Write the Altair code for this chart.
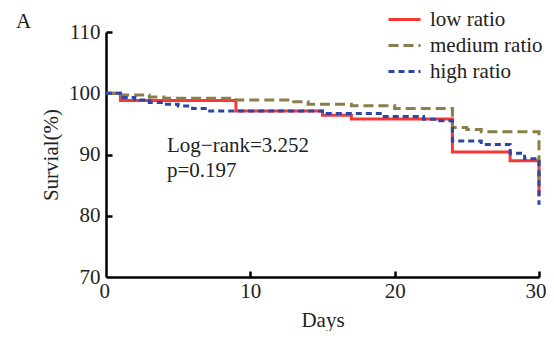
import altair as alt
import pandas as pd

# ---- data ----
series_names = ["low ratio", "medium ratio", "high ratio"]
series_colors = ["#f73636", "#8c7d4b", "#2a47a6"]

low_days = [0, 1, 9, 15, 17, 24, 28, 30]
low_vals = [100, 98.8, 97.1, 96.4, 95.8, 90.4, 89.0, 83.2]

medium_days = [0, 1, 3, 4, 9, 13, 14, 17, 20, 24, 25, 26, 30]
medium_vals = [100, 99.7, 99.4, 99.2, 98.9, 98.6, 98.2, 97.95, 97.5, 94.4, 94.1, 93.7, 84.8]

high_days = [0, 1, 2, 3, 4, 5, 6, 7, 15, 19, 22, 23, 24, 26, 28, 29, 30]
high_vals = [100, 99.3, 98.9, 98.5, 98.2, 97.9, 97.5, 97.1, 96.7, 96.2, 95.75, 95.5, 92.2, 91.65, 90.2, 89.3, 81.8]

x_ticks = [0, 10, 20, 30]
y_ticks = [70, 80, 90, 100, 110]
annotation = "Log\u2212rank=3.252\np=0.197"
panel_label = "A"

rows = []
for name, ds, vs in [(series_names[0], low_days, low_vals),
                     (series_names[1], medium_days, medium_vals),
                     (series_names[2], high_days, high_vals)]:
    for d, v in zip(ds, vs):
        rows.append({"series": name, "day": d, "surv": v})
df = pd.DataFrame(rows)

FONT = "Liberation Serif"
TXT = "#222222"
xscale = alt.Scale(domain=[0, 30], nice=False, zero=False)
yscale = alt.Scale(domain=[70, 110], nice=False, zero=False)


def make_legend():
    return alt.Legend(title=None, orient="none", legendX=287, legendY=-24,
                      symbolType="M-1.6,0H1.6", symbolSize=400,
                      symbolStrokeWidth=3, labelFont=FONT, labelFontSize=21,
                      labelColor=TXT, labelOffset=14, rowPadding=4, padding=0)


color = alt.Color("series:N",
                  scale=alt.Scale(domain=series_names, range=series_colors),
                  legend=make_legend())
dash = alt.StrokeDash("series:N",
                      scale=alt.Scale(domain=series_names, range=[[1, 0], [10, 5], [6, 4]]),
                      legend=make_legend())

main_x = alt.Axis(values=x_ticks, ticks=False, domainColor="black", domainWidth=2.5,
                  labelFont=FONT, labelFontSize=21, labelColor=TXT, labelPadding=3,
                  labelFlush=True, labelFlushOffset=7,
                  title="Days", titleFont=FONT, titleFontSize=21, titleFontWeight="normal",
                  titleColor=TXT, titlePadding=8, grid=False, format="d")
main_y = alt.Axis(values=y_ticks, ticks=False, domainColor="black", domainWidth=2.5,
                  labelFont=FONT, labelFontSize=21, labelColor=TXT, labelPadding=6,
                  labelFlush=False,
                  title="Survial(%)", titleFont=FONT, titleFontSize=21, titleFontWeight="normal",
                  titleColor=TXT, titlePadding=7, grid=False, format="d")

layers = []
for i, name in enumerate(series_names):
    layers.append(
        alt.Chart(df).transform_filter(alt.datum.series == name)
        .mark_line(interpolate="step-after", strokeWidth=3, strokeCap="butt")
        .encode(x=alt.X("day:Q", scale=xscale, axis=main_x if i == 0 else None),
                y=alt.Y("surv:Q", scale=yscale, axis=main_y if i == 0 else None),
                color=color, strokeDash=dash)
    )

tick_layer = alt.Chart(df).mark_point(opacity=0).encode(
    x=alt.X("day:Q", scale=xscale,
            axis=alt.Axis(orient="bottom", values=[10, 20, 30], offset=-6, domain=False,
                          labels=False, ticks=True, tickSize=6, tickWidth=2.5,
                          tickColor="black", title=None, grid=False)),
    y=alt.Y("surv:Q", scale=yscale,
            axis=alt.Axis(orient="left", values=[80, 90, 100, 110], offset=-6, domain=False,
                          labels=False, ticks=True, tickSize=6, tickWidth=2.5,
                          tickColor="black", title=None, grid=False)),
)

annot = alt.Chart(pd.DataFrame({"t": [annotation]})).mark_text(
    align="left", baseline="alphabetic", font=FONT, fontSize=21, color=TXT,
    lineBreak="\n", lineHeight=25
).encode(x=alt.value(61), y=alt.value(120), text="t:N")

label = alt.Chart(pd.DataFrame({"t": [panel_label]})).mark_text(
    align="left", baseline="alphabetic", font=FONT, fontSize=21, color=TXT
).encode(x=alt.value(-90), y=alt.value(-4), text="t:N")

chart = alt.layer(*layers, tick_layer, annot, label).resolve_axis(
    x="independent", y="independent"
).properties(
    width=433, height=245,
    autosize=alt.AutoSizeParams(type="none"),
    padding={"left": 98, "top": 24, "right": 7, "bottom": 54},
).configure(font=FONT).configure_axis(
    labelFont=FONT, titleFont=FONT
).configure_legend(labelFont=FONT).configure_view(stroke=None)

chart.save("out.html", embed_options={"renderer": "svg", "actions": False})
